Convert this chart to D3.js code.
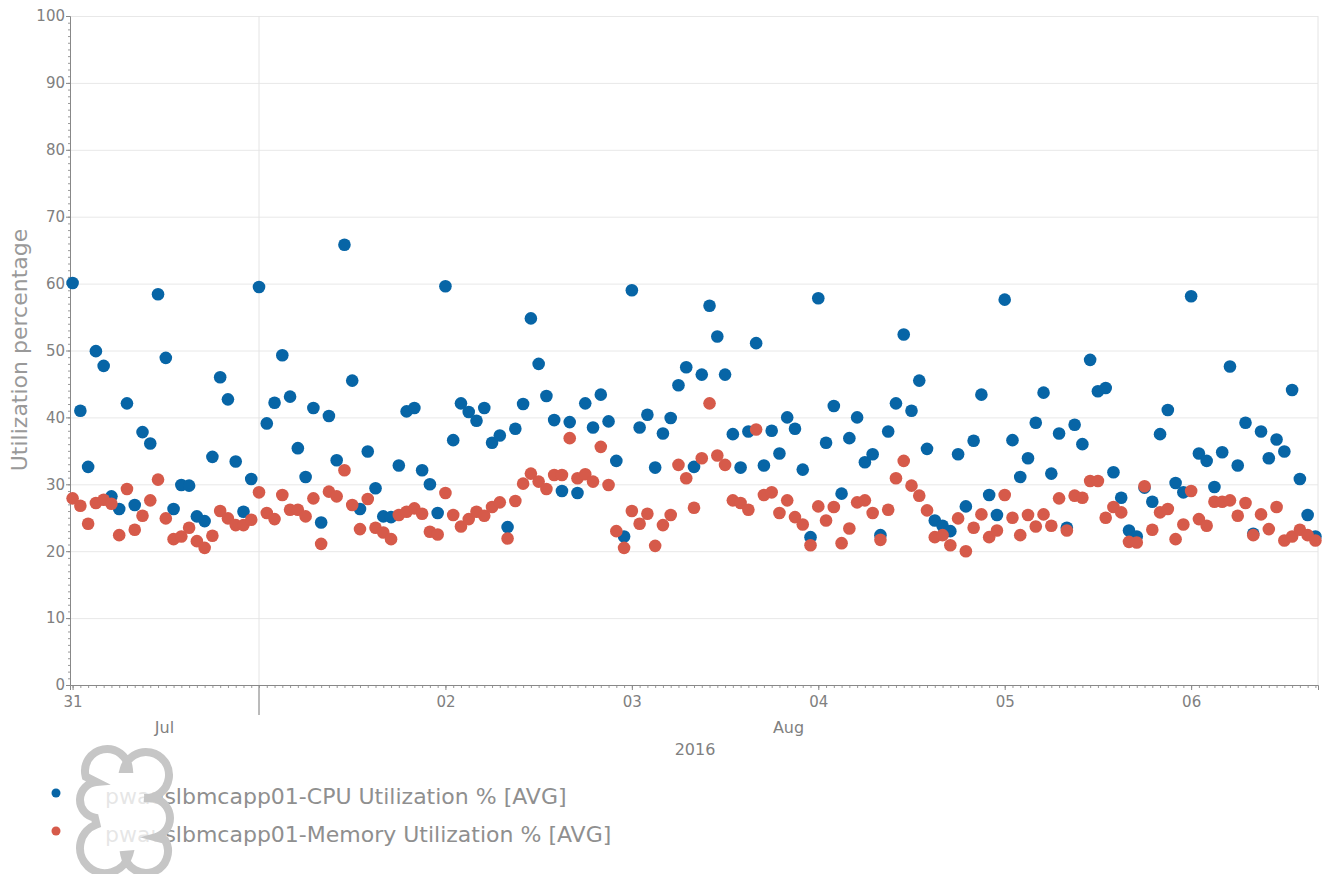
<!DOCTYPE html>
<html>
<head>
<meta charset="utf-8">
<script src="https://cdn.jsdelivr.net/npm/d3@7"></script>
<style>
body{margin:0;background:#fff;}
text{font-family:"DejaVu Sans",sans-serif;}
</style>
</head>
<body>
<div id="canvas"></div>
<script>
// hourly samples starting 2016-07-31 00:00
const startTime = "2016-07-31T00:00:00Z";

const cpuValues = [
	60.1,41.0,32.6,49.9,47.7,28.2,26.3,42.1,26.9,37.8,36.1,58.4,48.9,26.3,29.9,29.8,25.2,24.5,34.1,46.0,42.7,33.4,25.9,30.8,
	59.5,39.1,42.2,49.3,43.1,35.4,31.1,41.4,24.3,40.2,33.6,65.8,45.5,26.3,34.9,29.4,25.2,25.1,32.8,40.9,41.4,32.1,30.0,25.7,
	59.6,36.6,42.1,40.8,39.5,41.4,36.2,37.3,23.6,38.3,42.0,54.8,48.0,43.2,39.6,29.0,39.3,28.7,42.1,38.5,43.4,39.4,33.5,22.2,
	59.0,38.5,40.4,32.5,37.6,39.9,44.8,47.5,32.6,46.4,56.7,52.1,46.4,37.5,32.5,37.9,51.1,32.8,38.0,34.6,40.0,38.3,32.2,22.1,
	57.8,36.2,41.7,28.6,36.9,40.0,33.3,34.5,22.4,37.9,42.1,52.4,41.0,45.5,35.3,24.6,23.8,23.0,34.5,26.7,36.5,43.4,28.4,25.4,
	57.6,36.6,31.1,33.9,39.2,43.7,31.6,37.6,23.5,38.9,36.0,48.6,43.9,44.4,31.8,28.0,23.1,22.2,29.5,27.4,37.5,41.1,30.2,28.8,
	58.1,34.6,33.5,29.6,34.8,47.6,32.8,39.2,22.6,37.9,33.9,36.7,34.9,44.1,30.8,25.4,22.2
];

const memValues = [
	27.9,26.8,24.1,27.2,27.7,27.1,22.4,29.3,23.2,25.3,27.6,30.7,24.9,21.8,22.2,23.5,21.5,20.5,22.3,26.0,24.9,23.9,23.9,24.7,
	28.8,25.7,24.8,28.4,26.2,26.2,25.2,27.9,21.1,28.9,28.2,32.1,26.9,23.3,27.8,23.5,22.8,21.8,25.4,25.9,26.4,25.6,22.9,22.5,
	28.7,25.4,23.7,24.8,25.9,25.3,26.6,27.3,21.9,27.5,30.1,31.6,30.4,29.3,31.4,31.4,36.9,30.9,31.5,30.4,35.6,29.9,23.0,20.5,
	26.0,24.1,25.6,20.8,23.9,25.4,32.9,30.9,26.5,33.9,42.1,34.3,32.9,27.6,27.2,26.2,38.2,28.4,28.8,25.7,27.6,25.1,24.0,20.9,
	26.7,24.6,26.6,21.2,23.4,27.3,27.6,25.7,21.7,26.2,30.9,33.5,29.8,28.3,26.1,22.1,22.4,20.9,24.9,20.0,23.5,25.5,22.1,23.1,
	28.4,25.0,22.4,25.4,23.7,25.5,23.8,27.9,23.1,28.3,28.0,30.5,30.5,25.0,26.6,25.8,21.4,21.3,29.7,23.2,25.8,26.3,21.8,24.0,
	29.0,24.8,23.8,27.4,27.4,27.6,25.3,27.2,22.4,25.5,23.3,26.6,21.6,22.2,23.2,22.4,21.6
];

const seriesNames = ["pwauslbmcapp01-CPU Utilization % [AVG]", "pwauslbmcapp01-Memory Utilization % [AVG]"];
const seriesColors = ["#0765a6", "#d65a4a"];
const yTicks = [0,10,20,30,40,50,60,70,80,90,100];
const monthLabels = ["Jul", "Aug"];
const yearLabel = "2016";
const yTitle = "Utilization percentage";

const W = 1324, H = 874;
const M = {t:16, r:6, b:189, l:70};
const plotW = W - M.l - M.r, plotH = H - M.t - M.b;

const t0 = new Date(startTime);
const hourTimes = cpuValues.map((d, i) => d3.utcHour.offset(t0, i));
const series = [cpuValues, memValues].map((vals, s) =>
	vals.map((v, i) => ({t: hourTimes[i], v: v, s: s})));

const x = d3.scaleUtc()
	.domain([d3.utcMinute.offset(t0, -20), d3.utcMinute.offset(hourTimes[hourTimes.length-1], 20)])
	.range([0, plotW]);
const y = d3.scaleLinear().domain([0, 100]).range([plotH, 0]);

const svg = d3.select('#canvas').append('svg')
	.attr('width', W).attr('height', H);

const plot = svg.append('g').attr('transform', 'translate(' + M.l + ',' + M.t + ')');

// horizontal grid
plot.append('g').attr('class', 'grid')
	.call(d3.axisLeft(y).tickValues(yTicks).tickSize(-plotW).tickFormat(''))
	.call(g => g.select('.domain').remove())
	.call(g => g.selectAll('line').attr('stroke', '#e8e8e8'));

// right border
plot.append('line')
	.attr('x1', plotW).attr('x2', plotW).attr('y1', 0).attr('y2', plotH)
	.attr('stroke', '#e4e4e4');

// month boundary
const monthStarts = d3.utcMonth.range(x.domain()[0], x.domain()[1]);
const boundary = plot.append('g').selectAll('g').data(monthStarts).enter().append('g');
boundary.append('line')
	.attr('x1', d => x(d)).attr('x2', d => x(d))
	.attr('y1', 0).attr('y2', plotH)
	.attr('stroke', '#e4e4e4');
boundary.append('line')
	.attr('x1', d => x(d)).attr('x2', d => x(d))
	.attr('y1', plotH).attr('y2', plotH + 30)
	.attr('stroke', '#777');

// y minor ticks
plot.append('g')
	.call(d3.axisLeft(y).tickValues(d3.range(0, 101, 1)).tickSize(2).tickFormat(''))
	.call(g => g.select('.domain').remove())
	.call(g => g.selectAll('line').attr('stroke', '#999'));

// y axis
plot.append('g').attr('class', 'y axis')
	.call(d3.axisLeft(y).tickValues(yTicks).tickSize(4).tickPadding(1))
	.call(g => g.select('.domain').attr('stroke', '#888'))
	.call(g => g.selectAll('line').attr('stroke', '#888'))
	.call(g => g.selectAll('text').attr('fill', '#808080').style('font-size', '15px'));

// x minor ticks (hourly)
plot.append('g').attr('transform', 'translate(0,' + plotH + ')')
	.call(d3.axisBottom(x).ticks(d3.utcHour.every(1)).tickSize(3).tickFormat(''))
	.call(g => g.select('.domain').remove())
	.call(g => g.selectAll('line').attr('stroke', '#999'));

// x axis (days)
const dayTicks = d3.utcDay.range(t0, x.domain()[1]).filter(d => d.getUTCDate() !== 1);
plot.append('g').attr('class', 'x axis').attr('transform', 'translate(0,' + plotH + ')')
	.call(d3.axisBottom(x).tickValues(dayTicks).tickSize(5).tickPadding(6).tickFormat(d3.utcFormat('%d')))
	.call(g => g.select('.domain').attr('stroke', '#888'))
	.call(g => g.selectAll('line').attr('stroke', '#888'))
	.call(g => g.selectAll('text').attr('fill', '#808080').style('font-size', '15px'));

// month labels centred in their visible span
const edges = [x.domain()[0]].concat(monthStarts, [x.domain()[1]]);
plot.append('g').selectAll('text').data(monthLabels).enter().append('text')
	.attr('x', (d, i) => (x(edges[i]) + x(edges[i+1])) / 2)
	.attr('y', plotH + 48)
	.attr('text-anchor', 'middle')
	.attr('fill', '#808080').style('font-size', '16px')
	.text(d => d);

plot.append('text')
	.attr('x', plotW / 2 + 1).attr('y', plotH + 70)
	.attr('text-anchor', 'middle')
	.attr('fill', '#808080').style('font-size', '16px')
	.text(yearLabel);

// y title
svg.append('text')
	.attr('transform', 'translate(27,' + (M.t + 334) + ') rotate(-90)')
	.attr('text-anchor', 'middle')
	.attr('fill', '#999').style('font-size', '22px')
	.text(yTitle);

// points
plot.append('g').selectAll('g').data(series).enter().append('g')
	.attr('fill', (d, i) => seriesColors[i])
	.selectAll('circle').data(d => d).enter().append('circle')
	.attr('cx', d => x(d.t))
	.attr('cy', d => y(d.v))
	.attr('r', 6.3);

// legend
const legend = svg.append('g').selectAll('g').data(seriesNames).enter().append('g')
	.attr('transform', (d, i) => 'translate(56,' + (793 + i * 38) + ')');
legend.append('circle').attr('r', 4.5).attr('fill', (d, i) => seriesColors[i]);
legend.append('text')
	.attr('x', 49).attr('y', 11)
	.attr('fill', '#8f8f8f').style('font-size', '22px')
	.text(d => d);

// broken image placeholder drawn over the legend
const rad = a => a * Math.PI / 180;
const lobes = [
	{cx:107, cy:771, r:22, a0:165, a1:355},
	{cx:146, cy:775, r:23, a0:195, a1:455},
	{cx:150, cy:818, r:20, a0:-75, a1:75},
	{cx:146, cy:851, r:22, a0:-30, a1:170},
	{cx:105, cy:848, r:25, a0:15, a1:250},
	{cx:98, cy:800, r:18, a0:100, a1:265}
];
const cloud = d3.path();
lobes.forEach((l, i) => {
	if (i === 0) cloud.moveTo(l.cx + l.r * Math.cos(rad(l.a0)), l.cy + l.r * Math.sin(rad(l.a0)));
	cloud.arc(l.cx, l.cy, l.r, rad(l.a0), rad(l.a1));
});
cloud.closePath();
svg.append('path')
	.attr('d', cloud.toString())
	.attr('fill', '#fff').attr('fill-opacity', 0.78)
	.attr('stroke', '#c6c6c6').attr('stroke-width', 8);
</script>
</body>
</html>
